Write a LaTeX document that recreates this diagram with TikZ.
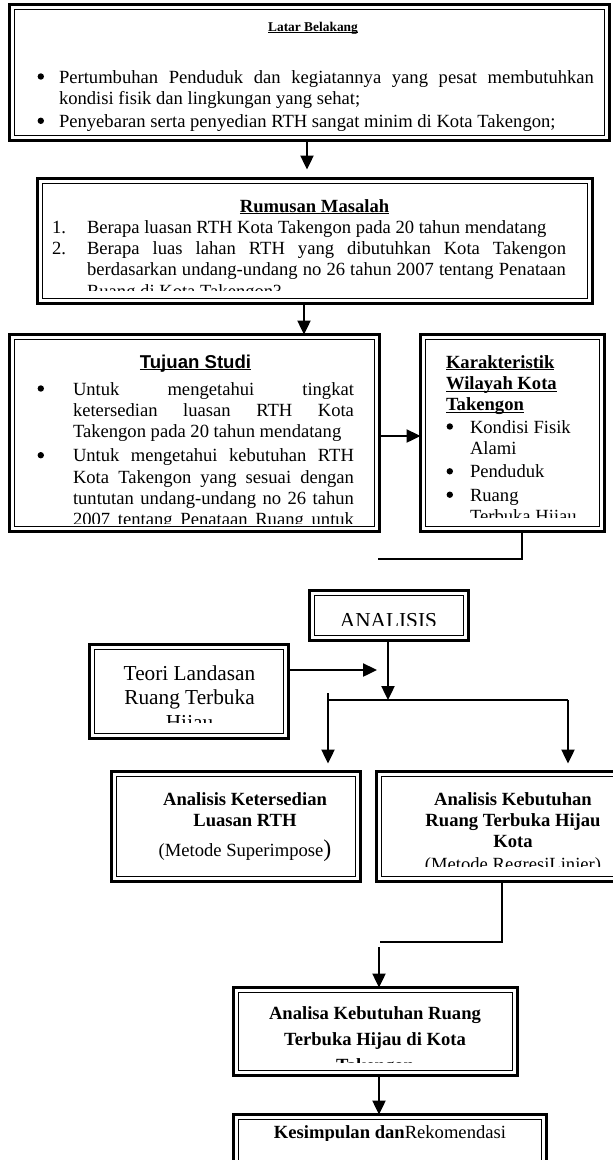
\documentclass[tikz,border=0pt]{standalone}
\usepackage{fontspec}
\setmainfont{Liberation Serif}
\newfontfamily\arialf{Liberation Sans}
\usetikzlibrary{arrows.meta,fit,calc}
\newcommand\myul[2][1.2pt]{\leavevmode\setbox0\hbox{#2}\rlap{\rule[-2.4pt]{\wd0}{#1}}\box0}
\newcommand\bodyf{\fontsize{18.6}{21.4}\selectfont}
\newcommand\num[1]{\leavevmode\llap{#1\hspace{21pt}}}
\newcommand\dbox[5]{%
  \node[outerbox, fit={(#2,#3) (#4,#5)}] (#1) {};
  \draw[innerline] ([xshift=5pt,yshift=-5pt]#1.north west) rectangle ([xshift=-5pt,yshift=5pt]#1.south east);
}
\begin{document}
\begin{tikzpicture}[x=1pt,y=-1pt,
  outerbox/.style={draw, line width=3pt, inner sep=0pt, outer sep=0pt},
  innerline/.style={line width=1.3pt},
  conn/.style={line width=2.4pt, -{Triangle[length=14pt,width=13pt]}},
  plain/.style={line width=2pt},
  dot/.style={fill=black},
  txt/.style={inner sep=0pt, outer sep=0pt}]
\clip (0,0) rectangle (613,1160);
\fill[white] (0,0) rectangle (613,1160);

% boxes
\dbox{b1}{9.5}{4.5}{609.5}{140.5}
\dbox{b2}{37.5}{178.5}{592.5}{303.5}
\dbox{b3}{9.5}{334.5}{379.5}{531.5}
\dbox{b4}{420.5}{334.5}{604.5}{531.5}
\dbox{ban}{309.5}{590.5}{468.5}{640.5}
\dbox{bte}{89.5}{644.5}{288.5}{738.5}
\dbox{bl}{111.5}{771.5}{360.5}{881.5}
\dbox{br}{376.5}{771.5}{650}{881.5}
\dbox{bak}{233.5}{987.5}{517.5}{1075.5}
\dbox{bks}{233.5}{1114.5}{546.5}{1185}

% Latar Belakang
\node[txt, anchor=base] (t1) at (313,31) {\fontsize{13.4}{16}\selectfont\bfseries\myul[1pt]{Latar Belakang}};
\node[txt, anchor=base west] (t1b) at (59,83) {\parbox[t]{535pt}{\bodyf
\makebox[535pt][s]{Pertumbuhan Penduduk dan kegiatannya yang pesat membutuhkan}\\
kondisi fisik dan lingkungan yang sehat;\\[1.5pt]
Penyebaran serta penyedian RTH sangat minim di Kota Takengon;}};
\fill[dot] (40.8,76.5) circle (3.2);
\fill[dot] (40.8,120.8) circle (3.2);

% Rumusan Masalah
\node[txt, anchor=base] (t2) at (314.5,212) {\bodyf\bfseries\myul{Rumusan Masalah}};
\begin{scope}
\clip (40,180) rectangle (590,290);
\node[txt, anchor=base west] (t2b) at (87,233) {\parbox[t]{479pt}{\bodyf
\num{1.}Berapa luasan RTH Kota Takengon pada 20 tahun mendatang\\
\num{2.}\makebox[479pt][s]{Berapa luas lahan RTH yang dibutuhkan Kota Takengon}\\
\makebox[479pt][s]{berdasarkan undang-undang no 26 tahun 2007 tentang Penataan}\\
Ruang di Kota Takengon?}};
\end{scope}

% Tujuan Studi
\node[txt, anchor=base] (t3) at (195.5,368) {\arialf\bodyf\bfseries\myul{Tujuan Studi}};
\begin{scope}
\clip (14,340) rectangle (376,523);
\node[txt, anchor=base west] (t3b) at (73,395) {\parbox[t]{281pt}{\bodyf
\makebox[281pt][s]{Untuk mengetahui tingkat}\\
\makebox[281pt][s]{ketersedian luasan RTH Kota}\\
Takengon pada 20 tahun mendatang\\[2.5pt]
\makebox[281pt][s]{Untuk mengetahui kebutuhan RTH}\\
\makebox[281pt][s]{Kota Takengon yang sesuai dengan}\\
\makebox[281pt][s]{tuntutan undang-undang no 26 tahun}\\
\makebox[281pt][s]{2007 tentang Penataan Ruang untuk}}};
\end{scope}
\fill[dot] (40.8,388.5) circle (3.2);
\fill[dot] (40.8,455.2) circle (3.2);

% Karakteristik
\node[txt, anchor=base west] (t4) at (446,368) {\parbox[t]{150pt}{\bodyf\bfseries
\myul{Karakteristik}\\ \myul{Wilayah Kota}\\ \myul{Takengon}}};
\begin{scope}
\clip (425,340) rectangle (600,517);
\node[txt, anchor=base west] (t4b) at (470,433) {\parbox[t]{130pt}{\bodyf
Kondisi Fisik\\ Alami\\[2pt]
Penduduk\\[2pt]
Ruang\\ Terbuka Hijau}};
\end{scope}
\fill[dot] (449.8,426.5) circle (3.2);
\fill[dot] (449.8,471.3) circle (3.2);
\fill[dot] (449.8,494.7) circle (3.2);

% ANALISIS
\begin{scope}
\clip (314,595) rectangle (464,625);
\node[txt, anchor=base] (tan) at (388.5,627) {\fontsize{21.3}{24}\selectfont ANALISIS};
\end{scope}

% Teori
\begin{scope}
\clip (94,649) rectangle (284,722);
\node[txt, anchor=base] (tte) at (189.5,680) {\parbox[t]{190pt}{\centering\fontsize{21.3}{24.5}\selectfont
Teori Landasan\\Ruang Terbuka\\Hijau}};
\end{scope}

% Analisis Ketersedian
\node[txt, anchor=base] (tl) at (245,805) {\parbox[t]{240pt}{\centering\bodyf\bfseries
Analisis Ketersedian\\Luasan RTH\\[9pt]
\mdseries(Metode Superimpose{\fontsize{24}{24}\selectfont)}}};

% Analisis Kebutuhan
\begin{scope}
\clip (381,776) rectangle (613,866);
\node[txt, anchor=base] (tr) at (513,805) {\parbox[t]{230pt}{\centering\bodyf\bfseries
Analisis Kebutuhan\\Ruang Terbuka Hijau\\Kota\\[1.5pt]
\mdseries(Metode RegresiLinier)}};
\end{scope}

% Analisa Kebutuhan
\begin{scope}
\clip (238,992) rectangle (513,1062);
\node[txt, anchor=base] (tak) at (375,1019) {\parbox[t]{270pt}{\centering\fontsize{18.6}{26}\selectfont\bfseries
Analisa Kebutuhan Ruang\\Terbuka Hijau di Kota\\Takengon}};
\end{scope}

% Kesimpulan
\begin{scope}
\clip (238,1119) rectangle (542,1140);
\node[txt, anchor=base] (tks) at (390,1138) {\bodyf\textbf{Kesimpulan dan}Rekomendasi};
\end{scope}

% connectors
\coordinate (c1) at ([xshift=-2.5pt]b1.south);
\draw[conn, shorten >=9pt] (c1) -- (c1 |- b2.north);
\coordinate (c2) at (304,0);
\draw[conn] (c2 |- b2.south) -- (c2 |- b3.north);
\coordinate (c3) at (0,436);
\draw[conn] (b3.east |- c3) -- (b4.west |- c3);
\coordinate (c4) at (522,559);
\coordinate (c4e) at (378,559);
\draw[plain] (c4 |- b4.south) -- (c4) -- (c4e);
\coordinate (c5) at (377,670);
\draw[conn] (bte.east |- c5) -- (c5);
\coordinate (c6) at (388,700);
\draw[conn] (c6 |- ban.south) -- (c6);
\coordinate (hl) at (328,700);
\coordinate (hr) at (568,700);
\coordinate (hl0) at (328,693);
\draw[plain] (hl) -- (hr);
\draw[conn, shorten >=8pt] (hl0) -- (hl0 |- bl.north);
\draw[conn, shorten >=8pt] (hr) -- (hr |- br.north);
\coordinate (c8) at (502,942);
\coordinate (c8e) at (380,942);
\draw[plain] (c8 |- br.south) -- (c8) -- (c8e);
\coordinate (c9) at (379,947);
\draw[conn] (c9) -- (c9 |- bak.north);
\draw[conn] (c9 |- bak.south) -- (c9 |- bks.north);
\end{tikzpicture}
\end{document}
